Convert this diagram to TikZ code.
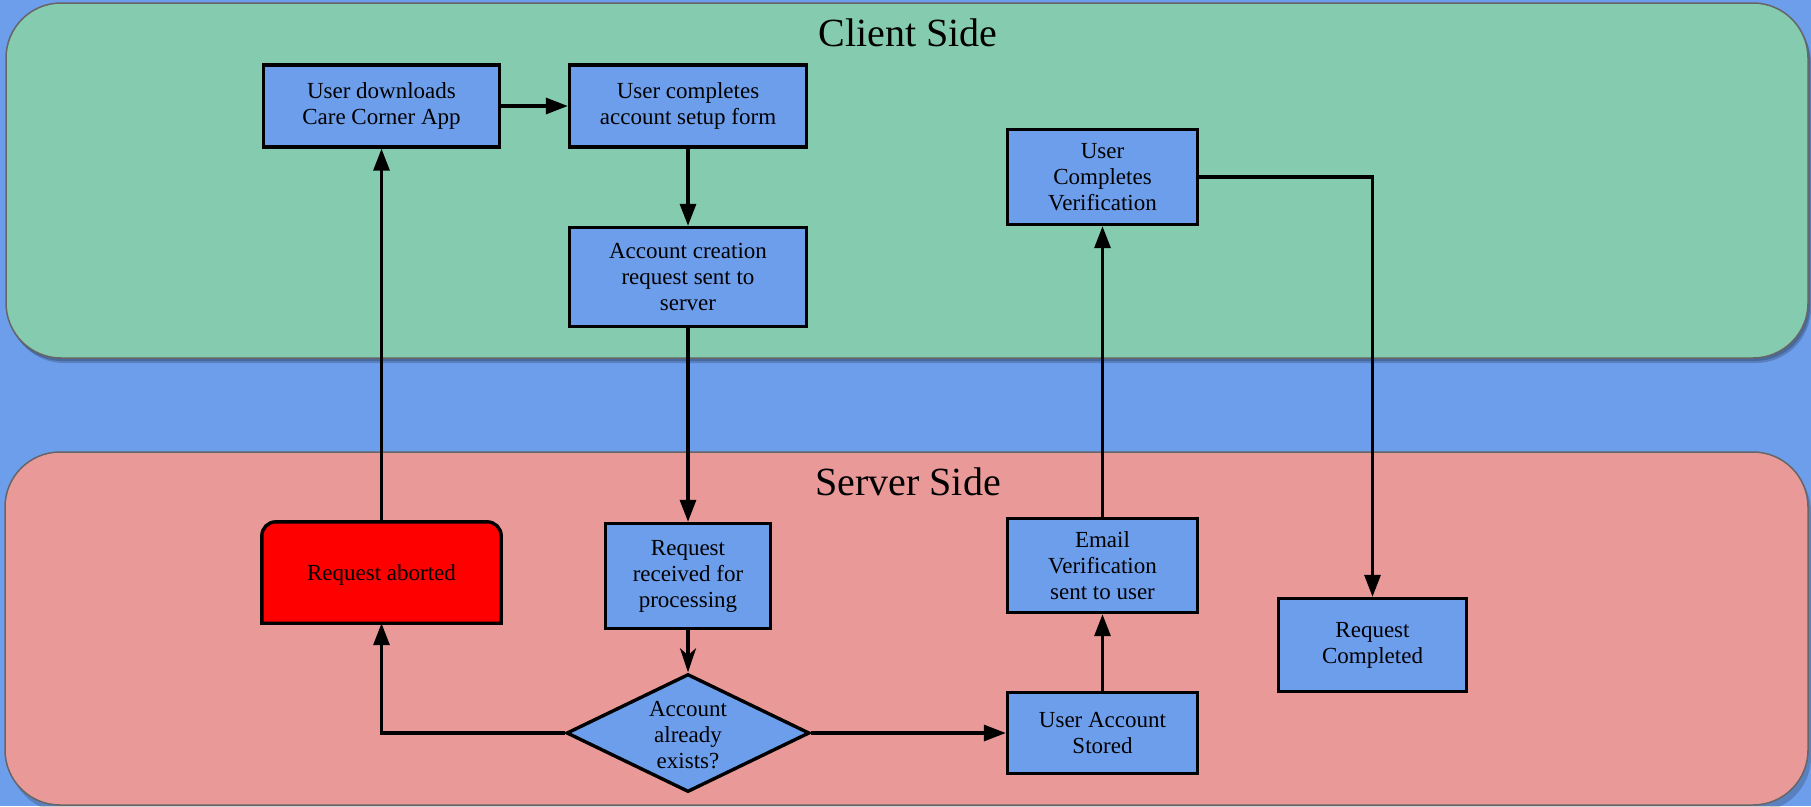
\documentclass[tikz,border=0pt]{standalone}
\usepackage{fontspec}
\setmainfont{Liberation Serif}
\usetikzlibrary{arrows.meta,shapes.geometric}
\definecolor{bgblue}{HTML}{6D9EEB}
\definecolor{clientgreen}{HTML}{84CBB0}
\definecolor{serverred}{HTML}{EA9999}
\definecolor{panelgray}{HTML}{666666}
\begin{document}
\begin{tikzpicture}[x=1pt,y=-1pt,
  box/.style={draw=black, line width=3.4pt, fill=bgblue, inner sep=0pt, align=center,
    font=\fontsize{23}{26}\selectfont},
  conn/.style={line width=3.2pt, -{Triangle[length=22pt,width=16pt]}},
  sconn/.style={line width=3.2pt, -{Stealth[length=24pt,width=16pt,inset=7pt]}},
  panel/.style={draw=panelgray, line width=1.5pt, rounded corners=55pt},
  shadowfill/.style={fill=black, opacity=0.18, rounded corners=55pt},
  title/.style={font=\fontsize{40}{44}\selectfont, anchor=base}]
% background
\fill[bgblue] (0,0) rectangle (1811,806);
\useasboundingbox (0,0) rectangle (1811,806);
% panels with shadows
\fill[shadowfill] (9,8) rectangle (1811,363);
\fill[shadowfill] (7,6) rectangle (1810,361);
\path[panel, fill=clientgreen] (6,3) rectangle (1808,358);
\fill[shadowfill] (9,457) rectangle (1811,812);
\path[panel, fill=serverred] (5,452) rectangle (1808,805);
\node[title] (ctitle) at (908,46) {Client Side};
\node[title] (stitle) at (908,495) {Server Side};
% client nodes
\node[box, minimum width=236pt, minimum height=82pt] (dl) at (381.5,106) {User downloads\\Care Corner App};
\node[box, minimum width=237pt, minimum height=82pt] (form) at (688,106) {User completes\\account setup form};
\node[box, minimum width=237pt, minimum height=99pt] (sent) at (688,277) {Account creation\\request sent to\\server};
\node[box, minimum width=190pt, minimum height=95pt] (ucv) at (1102.5,177) {User\\Completes\\Verification};
% server nodes
\node[box, fill=none, draw=none, minimum width=236pt, minimum height=98pt] (abort) at (381.5,572.5) {};
\draw[line width=3.4pt, fill=red]
  (abort.south west) -- ([yshift=-14pt]abort.north west)
  arc[start angle=180, end angle=90, radius=14pt]
  -- ([xshift=-14pt]abort.north east)
  arc[start angle=90, end angle=0, radius=14pt]
  -- (abort.south east) -- cycle;
\node[font=\fontsize{23}{26}\selectfont] (aborttext) at ([yshift=-2pt]abort.center) {Request aborted};
\node[box, minimum width=165pt, minimum height=105pt] (recv) at (688,576) {Request\\received for\\processing};
\node[box, shape=diamond, minimum width=243pt, minimum height=118pt] (dia) at (688,733) {};
\node[align=center, font=\fontsize{23}{26}\selectfont] (diatext) at (688,735) {Account\\already\\exists?};
\node[box, minimum width=190pt, minimum height=81pt] (stored) at (1102.5,733) {User Account\\Stored};
\node[box, minimum width=190pt, minimum height=94pt] (email) at (1102.5,565.5) {Email\\Verification\\sent to user};
\node[box, minimum width=188pt, minimum height=93pt] (done) at (1372.5,645) {Request\\Completed};
% connectors
\draw[conn] (dl.east) -- (form.west);
\draw[conn] (form.south) -- (sent.north);
\draw[conn] (sent.south) -- (recv.north);
\draw[sconn] (recv.south) -- (dia.north);
\draw[conn] (dia.west) -| (abort.south);
\draw[conn] (abort.north) -- (dl.south);
\draw[conn] (dia.east) -- (stored.west);
\draw[conn] (stored.north) -- (email.south);
\draw[conn] (email.north) -- (ucv.south);
\draw[conn] (ucv.east) -| (done.north);
\end{tikzpicture}
\end{document}
